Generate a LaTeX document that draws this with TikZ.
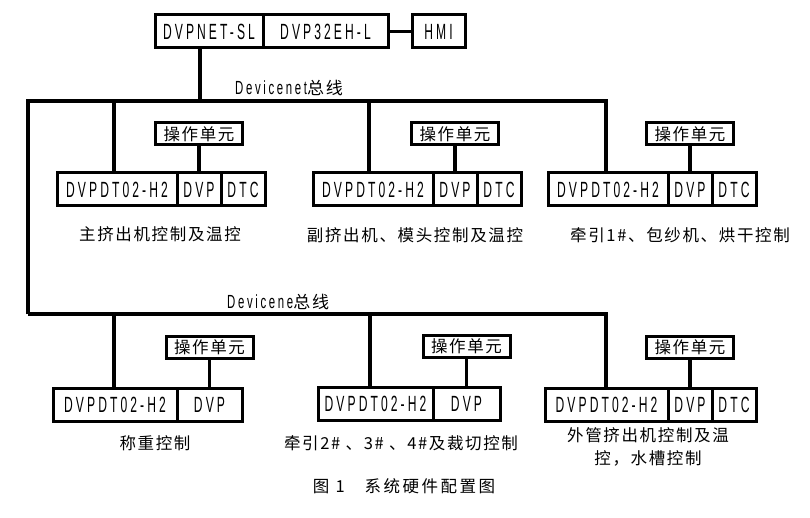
\documentclass[tikz,border=0pt]{standalone}
\usepackage{fontspec}
\usepackage{tikz}
\usetikzlibrary{positioning}
\newfontfamily\cjk[LetterSpace=10]{Noto Sans CJK SC}
\newfontfamily\capfont[LetterSpace=15]{Noto Sans CJK SC}
\newfontfamily\dvpfont[FakeStretch=0.55,LetterSpace=14]{Liberation Sans}
\newfontfamily\busfont[FakeStretch=0.6,LetterSpace=14]{Liberation Sans}

\begin{document}
\begin{tikzpicture}[
    x=1pt, y=-1pt,
    unit/.style={rectangle, draw, line width=3pt, outer sep=0pt, inner sep=0pt, minimum height=33pt, font=\fontsize{22}{22}\selectfont\dvpfont},
    wideunit/.style={unit, minimum width=120pt},
    smallunit/.style={unit, minimum width=44pt},
    opunit/.style={rectangle, draw, line width=3pt, outer sep=0pt, inner sep=0pt, minimum width=87pt, minimum height=22pt, font=\fontsize{16.5}{16.5}\selectfont\cjk},
    desc/.style={align=center, font=\fontsize{16.5}{23}\selectfont\cjk},
    busname/.style={anchor=south west, inner sep=0pt, font=\fontsize{19}{19}\selectfont},
    caption/.style={font=\fontsize{16.5}{16.5}\selectfont\capfont},
    bus/.style={line width=4pt},
    link/.style={line width=3.5pt}
]
\useasboundingbox (0,0) rectangle (810,518);

% Top row - master station
\node[unit, minimum width=108pt, anchor=north west] (net_sl) at (155,15) {DVPNET-SL};
\node[unit, minimum width=125pt, right=0pt of net_sl] (cpu_eh) {DVP32EH-L};
\node[unit, minimum width=53pt, right=24pt of cpu_eh] (hmi) {HMI};

% Bus lines
\coordinate (bus1_l) at (28,101);
\coordinate (bus1_r) at (606,101);
\coordinate (bus2_l) at (28,314);
\coordinate (bus2_r) at (606,314);
\node[busname] (bus1_name) at (235,96) {{\busfont Devicenet}{\fontsize{17}{17}\selectfont\cjk 总线}};
\node[busname] (bus2_name) at (227,310) {{\busfont Devicene}{\fontsize{17}{17}\selectfont\cjk 总线}};

% Upper row - three slave stations
\node[wideunit, anchor=north west] (dt_1) at (57,173) {DVPDT02-H2};
\node[smallunit, right=0pt of dt_1] (dvp_1) {DVP};
\node[smallunit, right=0pt of dvp_1] (dtc_1) {DTC};
\node[opunit, above=28pt of dvp_1] (op_1) {操作单元};
\node[desc] (desc_1) at (160,234) {主挤出机控制及温控};

\node[wideunit, anchor=north west] (dt_2) at (313,173) {DVPDT02-H2};
\node[smallunit, right=0pt of dt_2] (dvp_2) {DVP};
\node[smallunit, right=0pt of dvp_2] (dtc_2) {DTC};
\node[opunit, above=28pt of dvp_2] (op_2) {操作单元};
\node[desc] (desc_2) at (415,235) {副挤出机、模头控制及温控};

\node[wideunit, anchor=north west] (dt_3) at (548,173) {DVPDT02-H2};
\node[smallunit, right=0pt of dt_3] (dvp_3) {DVP};
\node[smallunit, right=0pt of dvp_3] (dtc_3) {DTC};
\node[opunit, above=28pt of dvp_3] (op_3) {操作单元};
\node[desc] (desc_3) at (680,235) {牵引1\#、包纱机、烘干控制};

% Lower row - three slave stations
\node[unit, minimum width=124pt, anchor=north west] (dt_4) at (53,388) {DVPDT02-H2};
\node[unit, minimum width=65pt, right=0pt of dt_4] (dvp_4) {DVP};
\node[opunit, above=30pt of dvp_4] (op_4) {操作单元};
\node[desc] (desc_4) at (155,443) {称重控制};

\node[unit, minimum width=115pt, anchor=north west] (dt_5) at (318,387) {DVPDT02-H2};
\node[unit, minimum width=67pt, right=0pt of dt_5] (dvp_5) {DVP};
\node[opunit, above=30pt of dvp_5] (op_5) {操作单元};
\node[desc] (desc_5) at (401,443) {牵引2\# 、3\# 、4\#及裁切控制};

\node[unit, minimum width=123pt, anchor=north west] (dt_6) at (545,388) {DVPDT02-H2};
\node[smallunit, right=0pt of dt_6] (dvp_6) {DVP};
\node[smallunit, right=0pt of dvp_6] (dtc_6) {DTC};
\node[opunit, above=30pt of dvp_6] (op_6) {操作单元};
\node[desc] (desc_6) at (648,447) {外管挤出机控制及温\\控，水槽控制};

% Caption
\node[caption] (fig_cap) at (404,486) {图 1\hspace{20pt}系统硬件配置图};

% Taps on the bus
\coordinate (tap_0) at (200,101);
\coordinate (tap_1) at (114,101);
\coordinate (tap_2) at (369,101);
\coordinate (tap_4) at (114,314);
\coordinate (tap_5) at (370,314);

% Connections
\draw[link] (cpu_eh) -- (hmi);
\draw[bus] (tap_0 |- net_sl.south) -- (tap_0);
\draw[bus] (bus2_l) -- (bus1_l) -- (bus1_r) -- (bus1_r |- dt_3.north);
\draw[bus] (bus2_l) -- (bus2_r) -- (bus2_r |- dt_6.north);
\draw[link] (tap_1) -- (tap_1 |- dt_1.north);
\draw[link] (tap_2) -- (tap_2 |- dt_2.north);
\draw[link] (tap_4) -- (tap_4 |- dt_4.north);
\draw[link] (tap_5) -- (tap_5 |- dt_5.north);
\draw[link] (op_1) -- (dvp_1);
\draw[link] (op_2) -- (dvp_2);
\draw[link] (op_3) -- (dvp_3);
\draw[link] (op_4) -- (dvp_4);
\draw[link] (op_5) -- (dvp_5);
\draw[link] (op_6) -- (dvp_6);

\end{tikzpicture}
\end{document}
